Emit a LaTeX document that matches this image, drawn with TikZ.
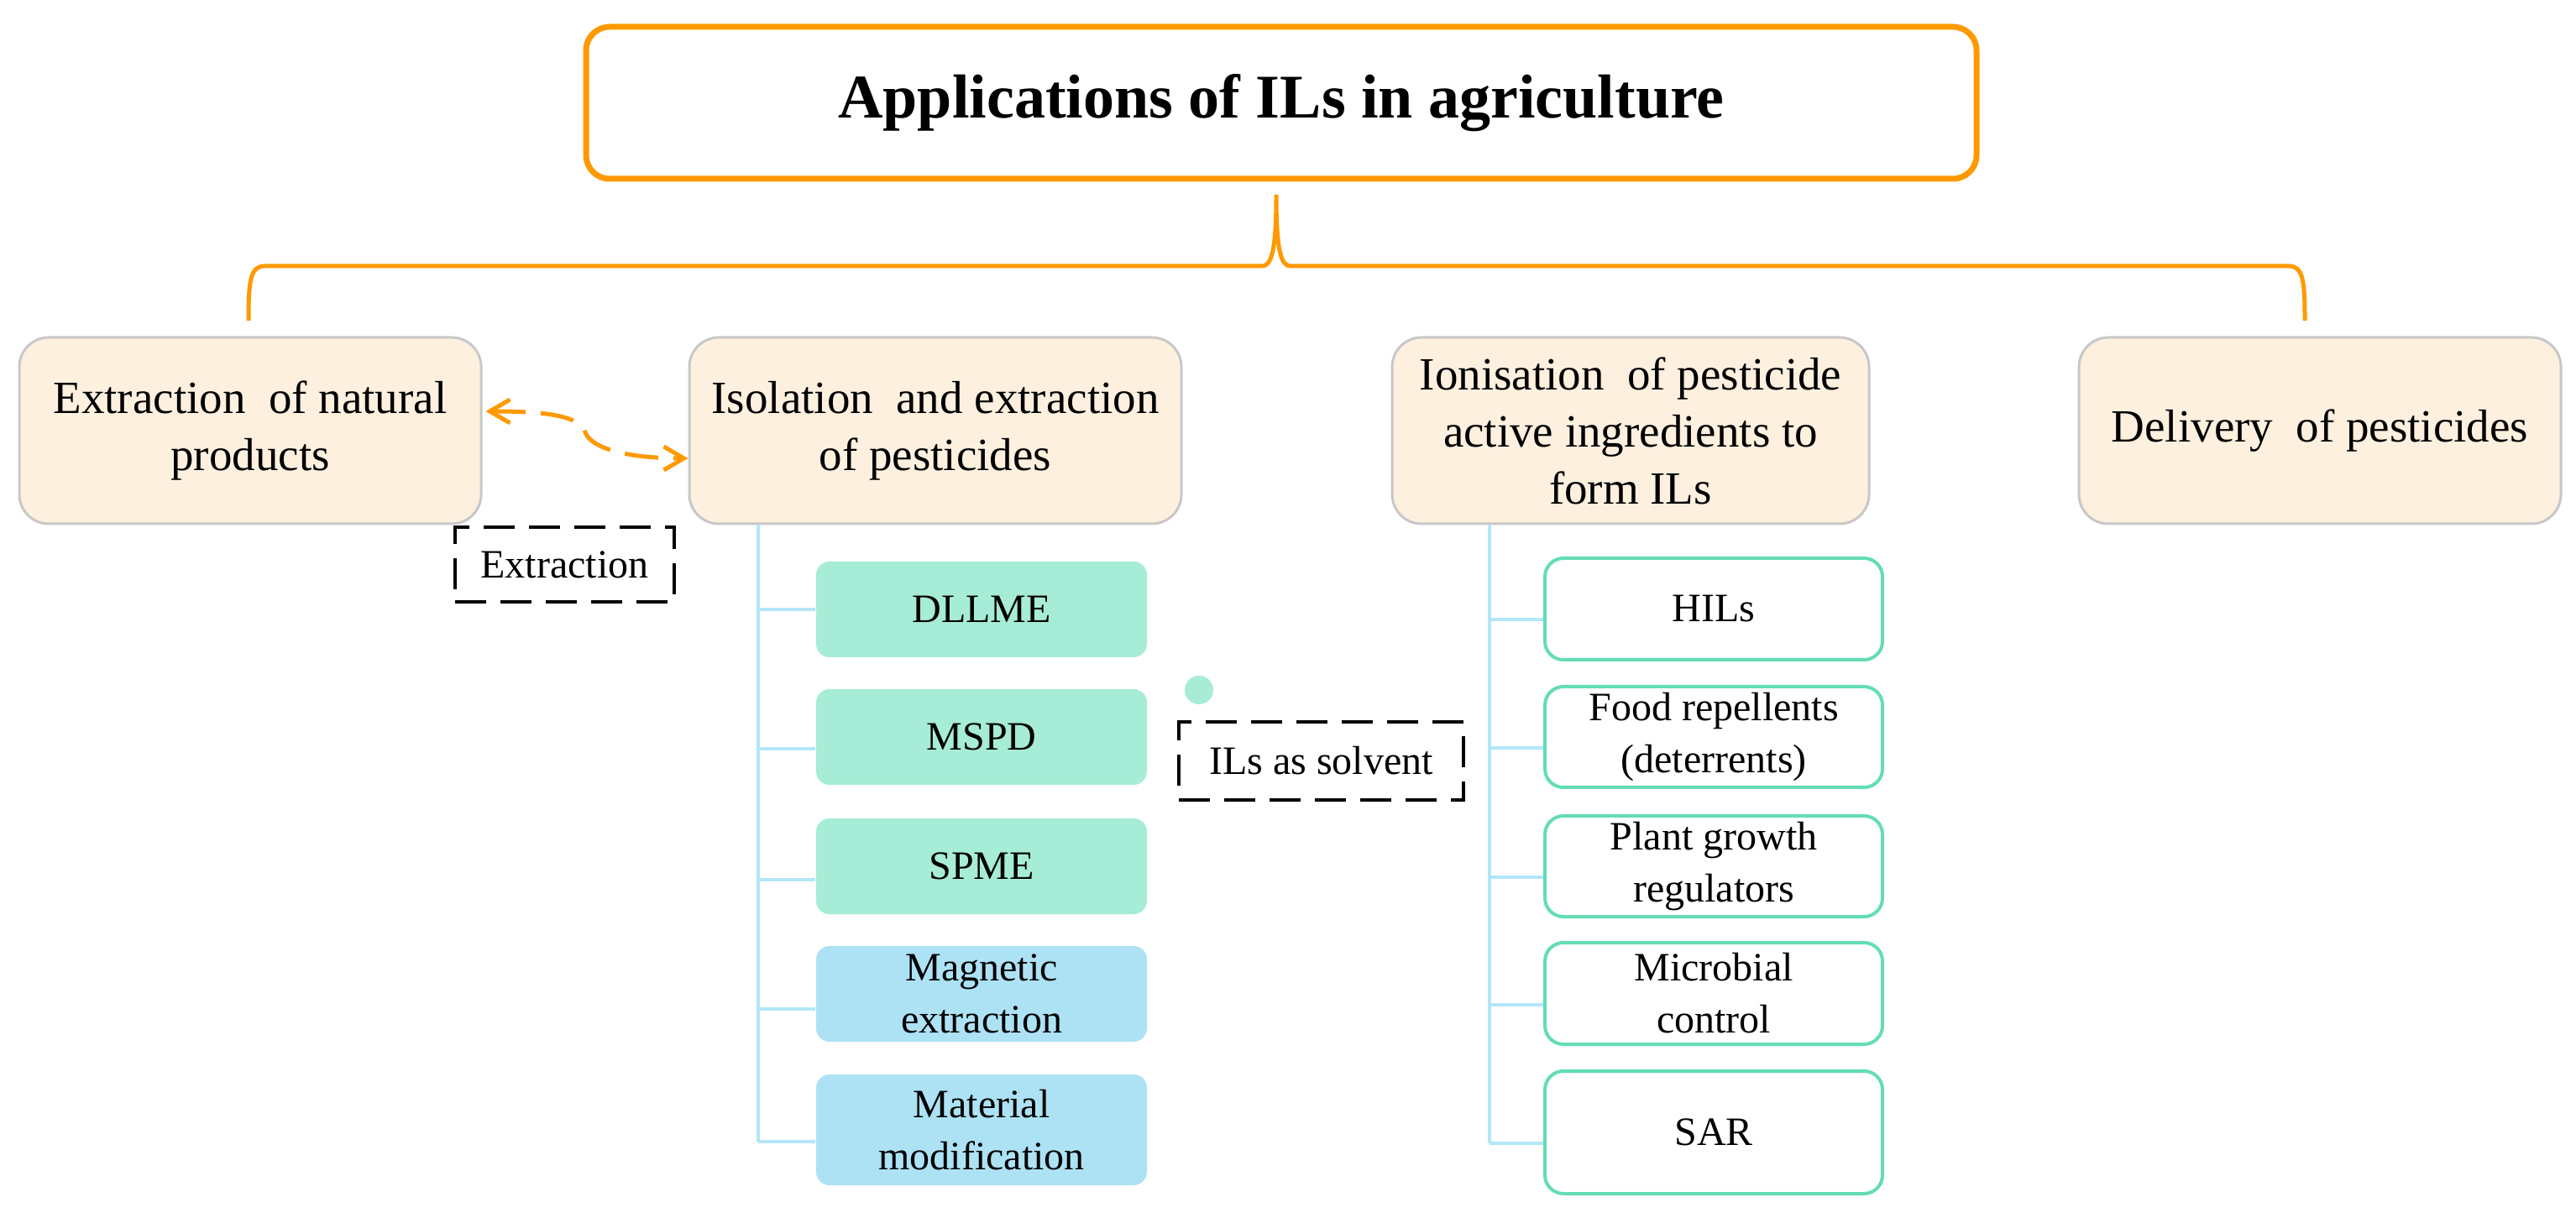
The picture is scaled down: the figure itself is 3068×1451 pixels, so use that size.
\documentclass[tikz,border=0pt]{standalone}
\usepackage{fontspec}
\setmainfont{Liberation Serif}
\usetikzlibrary{calc,arrows.meta}
\definecolor{orng}{HTML}{FF9900}
\definecolor{boxfill}{HTML}{FDF0DF}
\definecolor{boxline}{HTML}{C8C8C8}
\definecolor{teal1}{HTML}{A6ECD6}
\definecolor{blue1}{HTML}{ADE2F5}
\definecolor{green1}{HTML}{64DDB4}
\definecolor{tree1}{HTML}{B2E6F8}
\begin{document}
\begin{tikzpicture}[x=0.25pt,y=-0.25pt,
  titlebox/.style={draw=orng, line width=1.75pt, rounded corners=7pt, fill=white, minimum width=414pt, minimum height=45.25pt, inner sep=0pt, font=\fontsize{18.5}{22}\selectfont\bfseries},
  mainbox/.style={draw=boxline, line width=0.75pt, fill=boxfill, rounded corners=8.75pt, minimum height=55.5pt, inner sep=0pt, align=center, font=\fontsize{13.75}{17}\selectfont},
  tealbox/.style={fill=teal1, rounded corners=4pt, minimum width=98.5pt, minimum height=28.5pt, inner sep=0pt, align=center, font=\fontsize{12}{15.5}\selectfont},
  bluebox/.style={tealbox, fill=blue1},
  greenbox/.style={draw=green1, line width=1pt, fill=white, rounded corners=5.5pt, minimum width=100.5pt, minimum height=30pt, inner sep=0pt, align=center, font=\fontsize{12}{15.5}\selectfont},
  dashbox/.style={draw=black, line width=1pt, dash pattern=on 9.25pt off 4.25pt, inner sep=0pt, font=\fontsize{12}{15.5}\selectfont},
  treeline/.style={draw=tree1, line width=1pt},
  bracepath/.style={draw=orng, line width=1.25pt},
  oarrow/.style={draw=orng, line width=1.25pt, dash pattern=on 10pt off 4.5pt, {Straight Barb[length=6pt,width=7pt]}-{Straight Barb[length=6pt,width=7pt]}}
]
\fill[white] (0,0) rectangle (3068,1451);
\useasboundingbox (0,0) rectangle (3068,1451);

% title
\node[titlebox] (title) at (1526,122.5) {Applications of ILs in agriculture};

% brace
\draw[bracepath] (296,382) .. controls (296,335) and (298,317) .. (315,317) -- (1503,317)
  .. controls (1514,317) and (1520,300) .. (1520,232)
  .. controls (1520,300) and (1526,317) .. (1537,317) -- (2726,317)
  .. controls (2743,317) and (2745,335) .. (2745,382);

% main boxes
\node[mainbox, minimum width=137.5pt] (ext) at (298,513) {Extraction~ of natural\\products};
\node[mainbox, minimum width=146.5pt] (iso) at (1114,513) {Isolation~ and extraction\\of pesticides};
\node[mainbox, minimum width=142pt] (ion) at (1942,513) {Ionisation~ of pesticide\\active ingredients to\\form ILs};
\node[mainbox, minimum width=143.5pt] (del) at (2763,513) {Delivery~ of pesticides};

% dashed arrow
\draw[oarrow] ($(ext.east)+(4,-23)$) .. controls (650,490) and (690,495) .. (697,515)
  .. controls (703,532) and (740,546) .. ($(iso.west)+(0,33)$);

% labels
\node[dashbox, minimum width=65.25pt, minimum height=22.25pt] (extlab) at (672.5,672.5) {Extraction};
\node[dashbox, minimum width=84.75pt, minimum height=23.25pt] (ilslab) at (1573.5,906.5) {ILs as solvent};
\node[circle, fill=teal1, minimum size=8.5pt, inner sep=0pt] (dot) at (1428,822) {};

% left sub boxes
\node[tealbox] (m1) at (1169,726) {DLLME};
\node[tealbox] (m2) at (1169,878) {MSPD};
\node[tealbox] (m3) at (1169,1032) {SPME};
\node[bluebox] (m4) at (1169,1184) {Magnetic\\extraction};
\node[bluebox, minimum height=33pt] (m5) at (1169,1346) {Material\\modification};

% right sub boxes
\node[greenbox, minimum height=30.25pt] (r1) at (2041,725.5) {HILs};
\node[greenbox] (r2) at (2041,878) {Food repellents\\(deterrents)};
\node[greenbox] (r3) at (2041,1032) {Plant growth\\regulators};
\node[greenbox, minimum height=30.25pt] (r4) at (2041,1183.5) {Microbial\\control};
\node[greenbox, minimum height=36.5pt] (r5) at (2041,1349) {SAR};

% tree lines
\coordinate (lx) at (903,0);
\coordinate (rx) at (1774,0);
\coordinate (lb1) at ($(m1.west)+(0,0)$);
\coordinate (lb2) at ($(m2.west)+(0,14)$);
\coordinate (lb3) at ($(m3.west)+(0,16)$);
\coordinate (lb4) at ($(m4.west)+(0,18)$);
\coordinate (lb5) at ($(m5.west)+(0,14)$);
\foreach \i in {1,...,5}{\coordinate (rb\i) at ($(r\i.west)+(0,13)$);}
\draw[treeline] (iso.south -| lx) -- (lx |- lb5);
\foreach \i in {1,...,5}{\draw[treeline] (lx |- lb\i) -- (lb\i);}
\draw[treeline] (ion.south -| rx) -- (rx |- rb5);
\foreach \i in {1,...,5}{\draw[treeline] (rx |- rb\i) -- (rb\i);}
\end{tikzpicture}
\end{document}
